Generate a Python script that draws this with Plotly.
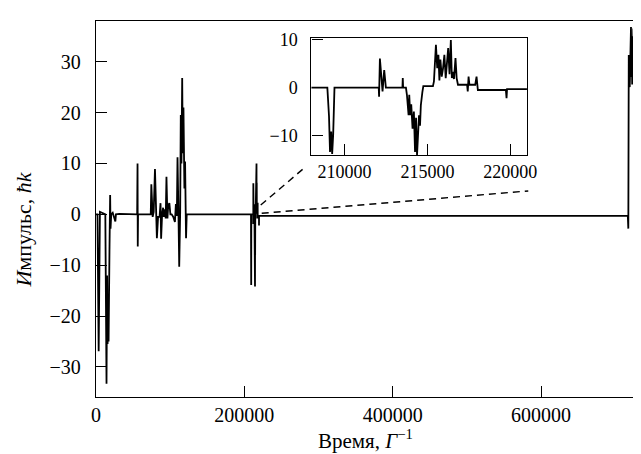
import plotly.graph_objects as go

# ---- data (time in 1/Gamma, momentum in hbar k) ----
time = [
    0, 2000, 3600, 5300, 12580, 14170, 14970, 15630, 16290, 16960, 18150, 19070, 19600,
    20530, 22520, 24500, 26090, 26890, 31390,
    55500, 56000, 56300, 56700,
    73800, 74600, 76400, 77800, 79500, 80800, 82100, 83700, 85700, 87000, 87800, 89100,
    90500, 91300, 92700, 94000, 95000, 96300, 97400, 98900, 100300, 102000, 104200,
    106400, 107700, 109000, 109900, 111300, 112200, 113500, 114300, 115200, 116200,
    117000, 117900, 119200, 120100, 121400, 122300,
    208000, 208960, 209060, 209120, 209190, 209250, 209310, 209390,
    212060, 212080, 212130, 212220, 212290, 212390, 212490,
    213490, 213510, 213530, 213700, 213760, 213860, 213900, 213960, 214020, 214100,
    214180, 214250, 214310, 214370, 214430, 214490, 214550, 214600, 214690, 214750,
    215330, 215390, 215510, 215590, 215660, 215720, 215780, 215860, 215940, 216020,
    216100, 216170, 216250, 216330, 216410, 216470, 216530, 216600, 216690, 216760,
    216840, 217390, 217430, 217480, 217530, 217880, 217920, 217960, 218040,
    219730, 219770, 219800, 221000,
    717000, 717700, 718300, 719000, 719600, 720200, 720700, 721300, 721800, 722400,
    722900, 723500, 724000, 724600, 725100, 725700, 726300,
]
momentum = [
    0, 0, -26.9, 0.5, 0, -33.3, -12, -25.5, -18, -25, -7.3, 3.8, -2.8,
    0, 0.3, -0.5, -1.4, 0, 0.1,
    0, 10, -6.3, 0,
    0, 5.9, -0.5, 0.5, 8.9, -1.5, -4.7, -0.5, -0.5, 2.2, -4.8, 0,
    1.3, -0.5, 1.0, -0.8, 7.4, -0.8, 1.8, 2.2, 0, 0, -0.5,
    -1.5, 2.0, -0.3, 11.2, -1.0, -10.3, 0.5, 19.5, 10, 26.8,
    12, 21, 5.1, 10.4, -4.7, 0,
    0, 0, -6, -13.5, -9.2, -13.9, -10, 0,
    0, -1.9, 6.1, 1.3, -0.8, 3.7, 0,
    0, 2.0, 0, 0, -1.5, -5.8, -1.5, -5.8, -3.5, -8.6,
    -5.0, -13.5, -6.3, -14.2, -7.5, -5.8, -8.0, -3.7, -1.0, 0.3,
    0.3, 1.3, 9.0, 4.1, 6.9, 1.5, 5.9, 2.3, 4.1, 6.9,
    2.0, 4.7, 8.3, 2.8, 10.0, 2.0, 3.3, 1.8, 6.2, 2.0,
    0.6, 0.6, -0.8, 2.3, 0.6, 0.6, 2.3, 2.3, -0.5,
    -0.5, -2.2, -0.3, -0.3,
    -0.3, -2.8, 31.3, 29, 25, 31, 26, 36.8, 27, 35, 25.5, 34, 28, 36.5, 30, 35, 31,
]

x_ticks_main = [0, 200000, 400000, 600000]
y_ticks_main = [-30, -20, -10, 0, 10, 20, 30]
x_ticks_inset = [210000, 215000, 220000]
y_ticks_inset = [-10, 0, 10]

x_title = "Время, <i>Γ</i><sup>−1</sup>"
y_title = "<i>И</i>мпульс, <i>ħk</i>"

FONT = "'Liberation Serif', 'Times New Roman', serif"


def ylab(v):
    s = str(abs(v))
    return ("−" + s if v < 0 else s) + "\u2002"


fig = go.Figure()
fig.add_trace(go.Scatter(x=time, y=momentum, mode="lines",
                         line=dict(color="black", width=1.8),
                         xaxis="x", yaxis="y", showlegend=False, hoverinfo="skip"))
fig.add_trace(go.Scatter(x=time, y=momentum, mode="lines",
                         line=dict(color="black", width=1.8),
                         xaxis="x2", yaxis="y2", showlegend=False, hoverinfo="skip"))

axis_common = dict(showgrid=False, zeroline=False, showline=True, linecolor="black",
                   linewidth=1.3, mirror=True, ticks="inside", ticklen=11,
                   tickcolor="black", tickwidth=1.3)

fig.update_layout(
    width=641, height=454,
    margin=dict(l=88, r=4, t=13, b=65),
    paper_bgcolor="white", plot_bgcolor="white",
    font=dict(family=FONT, size=19, color="black"),
    xaxis=dict(range=[0, 726700], tickvals=x_ticks_main,
               ticktext=[str(v) for v in x_ticks_main],
               tickfont=dict(family=FONT, size=20),
               **axis_common),
    yaxis=dict(range=[-35.9, 38.0], tickvals=y_ticks_main,
               ticktext=[ylab(v) for v in y_ticks_main],
               tickfont=dict(family=FONT, size=20),
               **axis_common),
    xaxis2=dict(domain=[0.3997, 0.7995], anchor="y2", range=[208000, 221000],
                tickvals=x_ticks_inset, ticktext=[str(v) for v in x_ticks_inset],
                tickfont=dict(family=FONT, size=18), **axis_common),
    yaxis2=dict(domain=[0.6428, 0.9559], anchor="x2", range=[-14.2, 10.5],
                tickvals=y_ticks_inset, ticktext=[ylab(v) for v in y_ticks_inset],
                tickfont=dict(family=FONT, size=18), **axis_common),
    annotations=[
        dict(text=x_title, xref="paper", yref="paper", x=0.5, y=-0.112,
             xanchor="center", yanchor="middle", showarrow=False,
             font=dict(family=FONT, size=21)),
        dict(text=y_title, xref="paper", yref="paper", x=-0.135, y=0.446,
             xanchor="center", yanchor="middle", showarrow=False, textangle=-90,
             font=dict(family=FONT, size=22)),
    ],
    shapes=[
        dict(type="line", xref="x", yref="y", x0=222100, y0=1.83, x1=283400, y1=9.45,
             line=dict(color="black", width=1.4, dash="7px,5px")),
        dict(type="line", xref="x", yref="y", x0=223400, y0=0.2, x1=582800, y1=4.6,
             line=dict(color="black", width=1.4, dash="7px,5px")),
    ],
)

fig.write_html("out.html")
